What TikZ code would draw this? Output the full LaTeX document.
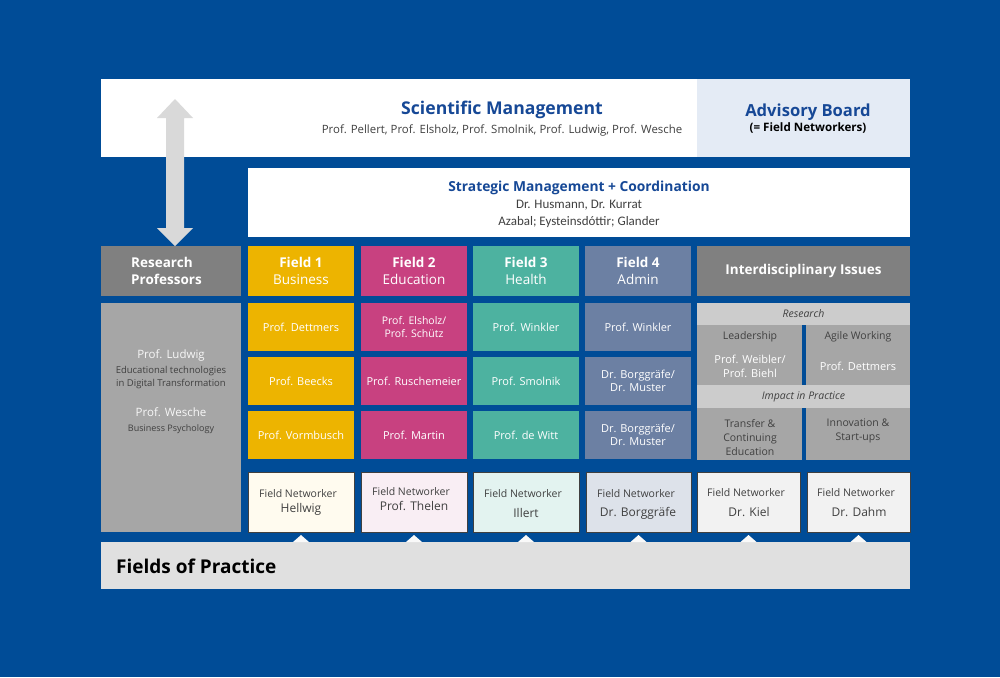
\documentclass[tikz,border=0pt]{standalone}
\usepackage{fontspec}
\setmainfont{Open Sans}
\newfontfamily\calib{Carlito}
\usetikzlibrary{calc}
\definecolor{bgblue}{RGB}{0,76,151}
\definecolor{titleblue}{RGB}{22,72,150}
\definecolor{fyellow}{RGB}{237,180,0}
\definecolor{fmagenta}{RGB}{200,65,128}
\definecolor{fteal}{RGB}{77,178,160}
\definecolor{fslate}{RGB}{108,128,163}
\definecolor{dgray}{RGB}{128,128,128}
\definecolor{mgray}{RGB}{166,166,166}
\definecolor{lgray}{RGB}{204,204,204}
\definecolor{arrgray}{RGB}{217,217,217}
\definecolor{advfill}{RGB}{228,235,245}
\definecolor{fopfill}{RGB}{224,224,224}
\definecolor{txtdark}{RGB}{64,64,64}
\definecolor{nw1}{RGB}{255,251,239}
\definecolor{nw2}{RGB}{249,238,244}
\definecolor{nw3}{RGB}{227,243,240}
\definecolor{nw4}{RGB}{221,226,234}
\definecolor{nw5}{RGB}{242,242,242}
\newcommand\bx[7]{%
  \pgfmathsetmacro\bxcx{(#3+#5)/2}\pgfmathsetmacro\bxcy{(#4+#6)/2}%
  \pgfmathsetmacro\bxw{#5-#3}\pgfmathsetmacro\bxh{#6-#4}%
  \node[cell,#1,minimum width=\bxw pt,minimum height=\bxh pt] (#2) at (\bxcx,\bxcy) {#7};}
\tikzset{
  cell/.style={inner sep=0pt,outer sep=0pt,align=center,draw=none},
  fbox/.style={text=white,font=\fontsize{11}{13.5}\selectfont},
  fhead/.style={text=white,font=\fontsize{13.5}{17}\selectfont},
  netw/.style={draw=black!75,line width=0.7pt},
  nwlab/.style={inner sep=0pt,text=txtdark,font=\fontsize{10.5}{12}\selectfont},
  nwname/.style={inner sep=0pt,text=txtdark,font=\fontsize{12}{14}\selectfont},
  itxt/.style={font=\fontsize{10.5}{14}\selectfont,text=txtdark,align=center,inner sep=0pt},
  itxtw/.style={font=\fontsize{11}{14}\selectfont,text=white,align=center,inner sep=0pt},
  tri/.style={fill=white!95!gray},
}
\begin{document}
\begin{tikzpicture}[x=1pt,y=-1pt]
\fill[bgblue] (0,0) rectangle (1000,677);
\useasboundingbox (0,0) rectangle (1000,677);
% top boxes
\bx{fill=white}{sm}{101}{79}{697}{157}{}
\bx{fill=advfill}{adv}{697}{79}{910}{157}{}
\node[inner sep=0pt,text=titleblue,font=\bfseries\fontsize{17.6}{20}\selectfont] (smt) at (502,109.5) {Scientific Management};
\node[inner sep=0pt,text=txtdark,font=\fontsize{11.4}{13}\selectfont] (sms) at (502,131) {Prof. Pellert, Prof. Elsholz, Prof. Smolnik, Prof. Ludwig, Prof. Wesche};
\node[inner sep=0pt,text=titleblue,font=\bfseries\fontsize{16.6}{18}\selectfont] (advt) at (808,112) {Advisory Board};
\node[inner sep=0pt,text=black,font=\bfseries\fontsize{11.6}{13}\selectfont] (advs) at (808,128.5) {(= Field Networkers)};
% strategic
\bx{fill=white}{strat}{248}{168}{910}{237}{}
\node[inner sep=0pt,text=titleblue,font=\bfseries\fontsize{13.8}{16}\selectfont] (stt) at (579,187.5) {Strategic Management + Coordination};
\node[inner sep=0pt,text=txtdark,font=\calib\fontsize{13}{15}\selectfont] (sts1) at (579,205) {Dr. Husmann, Dr. Kurrat};
\node[inner sep=0pt,text=txtdark,font=\calib\fontsize{13}{15}\selectfont] (sts2) at (579,222) {Azabal; Eysteinsdóttir; Glander};
% header row
\bx{fill=dgray}{rph}{101}{246}{241}{296}{}
\node[inner sep=0pt,fhead,align=left] (rpht) at (166.5,271) {\textbf{Research}\\\textbf{Professors}};
\bx{fill=fyellow,fhead}{f1}{248}{246}{354}{296}{\textbf{Field 1}\\Business}
\bx{fill=fmagenta,fhead}{f2}{361}{246}{467}{296}{\textbf{Field 2}\\Education}
\bx{fill=fteal,fhead}{f3}{473}{246}{579}{296}{\textbf{Field 3}\\Health}
\bx{fill=fslate,fhead}{f4}{585}{246}{691}{296}{\textbf{Field 4}\\Admin}
\bx{fill=dgray,fhead}{ii}{697}{246}{910}{296}{\textbf{Interdisciplinary Issues}}
% double arrow
\coordinate (arrtop) at (175,99);
\coordinate (arrbot) at (arrtop |- rph.north);
\fill[arrgray] (arrtop) -- ($(arrtop)+(18,19)$) -- ($(arrtop)+(9,19)$) -- ($(arrbot)+(9,-18)$) -- ($(arrbot)+(18,-18)$) -- (arrbot)
  -- ($(arrbot)+(-18,-18)$) -- ($(arrbot)+(-9,-18)$) -- ($(arrtop)+(-9,19)$) -- ($(arrtop)+(-18,19)$) -- cycle;
% research professors body
\bx{fill=mgray}{rpb}{101}{303}{241}{532}{}
\node[itxtw,text=white!94!gray,font=\fontsize{11.5}{14}\selectfont] (lud) at (171,355) {Prof. Ludwig};
\node[itxt,font=\fontsize{9.5}{13}\selectfont] (ludd) at (171,377.5) {Educational technologies\\in Digital Transformation};
\node[itxtw,text=white!94!gray,font=\fontsize{11.5}{14}\selectfont] (wes) at (171,412) {Prof. Wesche};
\node[itxt,font=\fontsize{9}{11}\selectfont] (wesd) at (171,429) {Business Psychology};
% field cells
\bx{fill=fyellow,fbox}{f1a}{248}{303}{354}{351}{Prof. Dettmers}
\bx{fill=fyellow,fbox}{f1b}{248}{357}{354}{405}{Prof. Beecks}
\bx{fill=fyellow,fbox}{f1c}{248}{411}{354}{459}{Prof. Vormbusch}
\bx{fill=fmagenta,fbox,font=\fontsize{10.5}{13.5}\selectfont}{f2a}{361}{303}{467}{351}{Prof. Elsholz/\\Prof. Schütz}
\bx{fill=fmagenta,fbox}{f2b}{361}{357}{467}{405}{Prof. Ruschemeier}
\bx{fill=fmagenta,fbox}{f2c}{361}{411}{467}{459}{Prof. Martin}
\bx{fill=fteal,fbox}{f3a}{473}{303}{579}{351}{Prof. Winkler}
\bx{fill=fteal,fbox}{f3b}{473}{357}{579}{405}{Prof. Smolnik}
\bx{fill=fteal,fbox}{f3c}{473}{411}{579}{459}{Prof. de Witt}
\bx{fill=fslate,fbox}{f4a}{585}{303}{691}{351}{Prof. Winkler}
\bx{fill=fslate,fbox}{f4b}{585}{357}{691}{405}{Dr. Borggräfe/\\Dr. Muster}
\bx{fill=fslate,fbox}{f4c}{585}{411}{691}{459}{Dr. Borggräfe/\\Dr. Muster}
% interdisciplinary
\bx{fill=lgray,font=\itshape\fontsize{10.5}{13}\selectfont,text=txtdark}{res}{697}{303}{910}{325}{Research}
\bx{fill=mgray}{lead}{697}{325}{802}{385}{}
\bx{fill=mgray}{agile}{806}{325}{910}{385}{}
\node[itxt] (leadt) at (750,337) {Leadership};
\node[itxtw] (leadn) at (750,366) {Prof. Weibler/\\Prof. Biehl};
\node[itxt] (agilet) at (858,337) {Agile Working};
\node[itxtw] (agilen) at (858,366) {Prof. Dettmers};
\bx{fill=lgray,font=\itshape\fontsize{10.5}{13}\selectfont,text=txtdark}{imp}{697}{385}{910}{408}{Impact in Practice}
\bx{fill=mgray}{trans}{697}{408}{802}{460}{}
\bx{fill=mgray}{innov}{806}{408}{910}{460}{}
\node[itxt] (transt) at (750,438) {Transfer \&\\Continuing\\Education};
\node[itxt] (innovt) at (858,431) {Innovation \&\\Start-ups};
% fields of practice
\bx{fill=fopfill}{fop}{101}{542}{910}{589}{}
\node[anchor=west,inner sep=0pt,font=\bfseries\fontsize{19}{22}\selectfont,text=black] (fopt) at (116,566) {Fields of Practice};
% field networkers
\bx{fill=nw1,netw}{n1}{248}{472}{354}{532}{}
\bx{fill=nw2,netw}{n2}{361}{472}{467}{532}{}
\bx{fill=nw3,netw}{n3}{473}{472}{579}{532}{}
\bx{fill=nw4,netw}{n4}{586}{472}{691}{532}{}
\bx{fill=nw5,netw}{n5}{697}{472}{800}{532}{}
\bx{fill=nw5,netw}{n6}{807}{472}{910}{532}{}
\node[nwlab] (n1l) at (298,494) {Field Networker};
\node[nwname] (n1n) at (301,509) {Hellwig};
\node[nwlab] (n2l) at (411,492) {Field Networker};
\node[nwname] (n2n) at (414,506) {Prof. Thelen};
\node[nwlab] (n3l) at (523,494) {Field Networker};
\node[nwname] (n3n) at (526,513) {Illert};
\node[nwlab] (n4l) at (636,494) {Field Networker};
\node[nwname] (n4n) at (638,513) {Dr. Borggräfe};
\node[nwlab] (n5l) at (746,493) {Field Networker};
\node[nwname] (n5n) at (749,512) {Dr. Kiel};
\node[nwlab] (n6l) at (856,493) {Field Networker};
\node[nwname] (n6n) at (859,512) {Dr. Dahm};
\foreach \n in {n1,n2,n3,n4,n5,n6}{
  \fill[tri] ($(\n.south)+(-8,10)$) -- ($(\n.south)+(0,3)$) -- ($(\n.south)+(8,10)$) -- cycle;
}
\end{tikzpicture}
\end{document}
